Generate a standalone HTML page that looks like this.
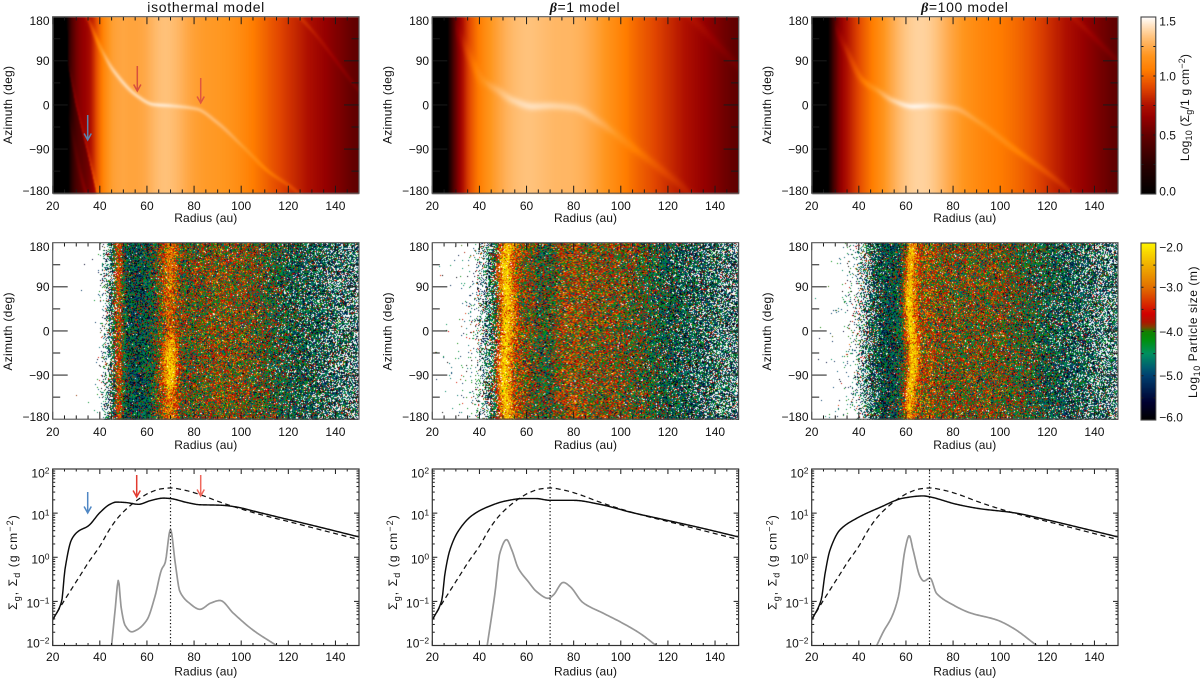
<!DOCTYPE html>
<html lang="en">
<head>
<meta charset="utf-8">
<title>Disc models: gas surface density and particle size</title>
<style>
html,body{margin:0;padding:0;background:#fff;width:1200px;height:679px;overflow:hidden}
#stage{position:relative;width:1200px;height:679px;font-family:"Liberation Sans",sans-serif}
canvas{position:absolute;display:block}
canvas.heat{filter:blur(.5px)}
canvas.dust{filter:blur(.38px)}
svg{position:absolute;left:0;top:0}
text{font-family:"Liberation Sans",sans-serif;font-size:12px;fill:#111}
</style>
</head>
<body>
<div id="stage">
<canvas class="heat" id="heat0" width="306" height="177" style="left:53px;top:17px;width:306px;height:177px"></canvas>
<canvas class="heat" id="heat1" width="306" height="177" style="left:432px;top:17px;width:307px;height:177px"></canvas>
<canvas class="heat" id="heat2" width="306" height="177" style="left:812px;top:17px;width:306px;height:177px"></canvas>
<canvas class="dust" id="dust0" width="306" height="177" style="left:53px;top:243px;width:306px;height:177px"></canvas>
<canvas class="dust" id="dust1" width="306" height="177" style="left:432px;top:243px;width:307px;height:177px"></canvas>
<canvas class="dust" id="dust2" width="306" height="177" style="left:812px;top:243px;width:306px;height:177px"></canvas>
<canvas id="gasBar" width="15" height="177" style="left:1141px;top:17px;width:15px;height:177px"></canvas>
<canvas id="sizeBar" width="15" height="177" style="left:1141px;top:243px;width:15px;height:177px"></canvas>

<svg id="figure" width="1200" height="679" viewBox="0 0 1200 679">
  <text x="205.8" y="12" text-anchor="middle" style="font-size:14px" textLength="117" lengthAdjust="spacing">isothermal model</text>
  <text x="585" y="12" text-anchor="middle" style="font-size:14px;letter-spacing:.6px"><tspan font-weight="bold" font-style="italic" font-family="Liberation Serif">β</tspan>=1 model</text>
  <text x="964.8" y="12" text-anchor="middle" style="font-size:14px;letter-spacing:.6px"><tspan font-weight="bold" font-style="italic" font-family="Liberation Serif">β</tspan>=100 model</text>

  <text x="205.8" y="222" text-anchor="middle" textLength="63">Radius (au)</text>
  <text x="585.5" y="222" text-anchor="middle" textLength="63">Radius (au)</text>
  <text x="964.8" y="222" text-anchor="middle" textLength="63">Radius (au)</text>
  <text x="205.8" y="449" text-anchor="middle" textLength="63">Radius (au)</text>
  <text x="585.5" y="449" text-anchor="middle" textLength="63">Radius (au)</text>
  <text x="964.8" y="449" text-anchor="middle" textLength="63">Radius (au)</text>
  <text x="205.8" y="675.7" text-anchor="middle" textLength="63">Radius (au)</text>
  <text x="585.5" y="675.7" text-anchor="middle" textLength="63">Radius (au)</text>
  <text x="964.8" y="675.7" text-anchor="middle" textLength="63">Radius (au)</text>

  <text transform="translate(12,105) rotate(-90)" text-anchor="middle" textLength="78">Azimuth (deg)</text>
  <text transform="translate(391.5,105) rotate(-90)" text-anchor="middle" textLength="78">Azimuth (deg)</text>
  <text transform="translate(771,105) rotate(-90)" text-anchor="middle" textLength="78">Azimuth (deg)</text>
  <text transform="translate(12,331.5) rotate(-90)" text-anchor="middle" textLength="78">Azimuth (deg)</text>
  <text transform="translate(391.5,331.5) rotate(-90)" text-anchor="middle" textLength="78">Azimuth (deg)</text>
  <text transform="translate(771,331.5) rotate(-90)" text-anchor="middle" textLength="78">Azimuth (deg)</text>

  <text transform="translate(17,562) rotate(-90)" text-anchor="middle" style="letter-spacing:1.1px">Σ<tspan dy="3" style="font-size:9px">g</tspan><tspan dy="-3">, Σ</tspan><tspan dy="3" style="font-size:9px">d</tspan><tspan dy="-3"> (g cm</tspan><tspan dy="-4" style="font-size:9px">−2</tspan><tspan dy="4">)</tspan></text>
  <text transform="translate(397,562) rotate(-90)" text-anchor="middle" style="letter-spacing:1.1px">Σ<tspan dy="3" style="font-size:9px">g</tspan><tspan dy="-3">, Σ</tspan><tspan dy="3" style="font-size:9px">d</tspan><tspan dy="-3"> (g cm</tspan><tspan dy="-4" style="font-size:9px">−2</tspan><tspan dy="4">)</tspan></text>
  <text transform="translate(776.5,562) rotate(-90)" text-anchor="middle" style="letter-spacing:1.1px">Σ<tspan dy="3" style="font-size:9px">g</tspan><tspan dy="-3">, Σ</tspan><tspan dy="3" style="font-size:9px">d</tspan><tspan dy="-3"> (g cm</tspan><tspan dy="-4" style="font-size:9px">−2</tspan><tspan dy="4">)</tspan></text>

  <text transform="translate(1189,107.5) rotate(-90)" text-anchor="middle" style="letter-spacing:.2px">Log<tspan dy="3" style="font-size:9px">10</tspan><tspan dy="-3"> (Σ</tspan><tspan dy="3" style="font-size:9px">g</tspan><tspan dy="-3">/1 g cm</tspan><tspan dy="-4" style="font-size:9px">−2</tspan><tspan dy="4">)</tspan></text>
  <text transform="translate(1197,332) rotate(-90)" text-anchor="middle" style="letter-spacing:.55px">Log<tspan dy="3" style="font-size:9px">10</tspan><tspan dy="-3"> Particle size (m)</tspan></text>
</svg>
</div>

<script>
/* ---------- axis tick values and labels ---------- */
const radiusTicks = [20,40,60,80,100,120,140];
const azimuthTicks = [180,90,0,-90,-180];
const decadeTicks = [2,1,0,-1,-2];
const gasBarTicks = ['1.5','1.0','0.5','0.0'];
const gasBarValues = [1.5,1.0,0.5,0.0];
const sizeBarTicks = ['−2.0','−3.0','−4.0','−5.0','−6.0'];
const sizeBarValues = [-2,-3,-4,-5,-6];

/* ---------- row 3: surface density curves (log10 g/cm2) ---------- */
const initialRadius = [20,24,28,33,35,40,44,47,50,55,58,61,66,70,76,82.5,90,96,108,120,132,150];
const initialLog = [-1.42,-1.06,-0.72,-0.3,-0.13,0.25,0.62,0.85,1.03,1.26,1.37,1.46,1.55,1.57,1.52,1.42,1.27,1.16,0.97,0.81,0.645,0.4];

const isoGasRadius = [20,23.8,25.2,28,30.9,35.1,40,44.3,47,51,56.4,61.3,67,70,77,82.5,91,96.7,108,118,132,150];
const isoGasLog = [-1.42,-1,-0.28,0.4,0.59,0.71,1.01,1.2,1.25,1.24,1.2,1.28,1.34,1.33,1.24,1.19,1.18,1.15,1.01,0.88,0.7,0.46];
const betaOneGasRadius = [20,24,25.4,27.5,31,36.7,43,51.5,58.6,64,70,80,91,105,119.4,133.6,150];
const betaOneGasLog = [-1.42,-0.98,-0.36,0.17,0.59,0.94,1.13,1.28,1.33,1.33,1.29,1.29,1.2,1.01,0.84,0.67,0.46];
const betaHundredGasRadius = [20,24,25.7,27.8,32,39,49,58.9,67.4,70,81.5,91.4,105.6,119.7,133.9,150];
const betaHundredGasLog = [-1.42,-0.97,-0.36,0.17,0.62,0.88,1.13,1.34,1.39,1.37,1.2,1.1,1.01,0.85,0.67,0.46];

const isoDustRadius = [45,46.5,47.9,49,50.7,53.5,55.6,60,63.4,66.2,67.7,70,72,74,78,82.5,87,91,96.7,105,115];
const isoDustLog = [-2,-1.19,-0.52,-1.12,-1.54,-1.69,-1.65,-1.42,-0.89,-0.28,-0.13,0.63,-0.13,-0.78,-1.04,-1.18,-1.04,-0.98,-1.27,-1.65,-2];
const betaOneDustRadius = [43.3,46.6,48.7,51.5,53.7,56.5,60.7,64.3,69.2,71.3,75.6,78.4,84,92.6,99.6,108,115];
const betaOneDustLog = [-2,-0.81,0.1,0.4,0.17,-0.25,-0.55,-0.78,-0.93,-0.86,-0.57,-0.66,-1.03,-1.27,-1.46,-1.72,-2];
const betaHundredDustRadius = [47.6,50.4,54,56.8,59.6,61.4,63,66,67.6,70.2,73,80,87.2,98.5,105.6,115.5];
const betaHundredDustLog = [-2,-1.69,-1.35,-0.89,0.17,0.49,0.17,-0.44,-0.54,-0.47,-0.82,-1.08,-1.26,-1.42,-1.61,-2];

/* ---------- row 1: planet wake tracks (azimuth unwrapped, deg) ---------- */
const isoWakeRadius = [26,33.7,35.1,40,45.7,55.6,62.7,71,81,89.6,101,111,124,150];
const isoWakeAzimuth = [350,187,173,119,71,20,2,-1,-7,-34,-85,-132,-177,-330];
const isoWakeStrength = [0.05,0.1,0.12,0.14,0.16,0.17,0.13,0.1,0.12,0.12,0.09,0.08,0.07,0.06];
const betaWakeRadius = [29.6,34.6,41.6,48,54.4,62.9,70,80,91,105,119.4,129,150];
const betaOneWakeAzimuth = [160,112,51,30,10,-2,-1,-5,-34,-85,-139,-178,-282];
const betaOneWakeStrength = [0.04,0.05,0.06,0.07,0.08,0.09,0.09,0.08,0.07,0.06,0.05,0.05,0.05];
const betaHundredWakeAzimuth = [160,112,51,30,10,-2,-1,-5,-34,-85,-135,-172,-270];
const betaHundredWakeStrength = [0.06,0.07,0.08,0.1,0.11,0.1,0.07,0.08,0.09,0.08,0.07,0.06,0.06];

/* isothermal inner shock front: radius against azimuth */
const frontAzimuth = [-180,-90,0,78,180];
const frontRadius = [38.7,34.4,29.8,26.6,26];

/* ---------- row 2: particle population against radius ---------- */
const fieldRadius = [20,30,35,38,40,42,44,46,50,55,60,65,70,75,80,90,100,110,120,130,140,150];
const isoFill = [0,0.001,0.002,0.006,0.05,0.25,0.55,0.85,0.98,0.99,0.99,0.99,0.99,0.99,0.99,0.99,0.985,0.97,0.93,0.85,0.72,0.62];
const betaOneFill = [0.002,0.01,0.035,0.09,0.22,0.4,0.58,0.78,0.96,0.99,0.99,0.99,0.99,0.99,0.99,0.99,0.985,0.97,0.93,0.85,0.72,0.62];
const betaHundredFill = [0.002,0.01,0.045,0.12,0.3,0.45,0.62,0.8,0.96,0.99,0.99,0.99,0.99,0.99,0.99,0.99,0.985,0.97,0.93,0.85,0.72,0.62];
const isoMeanSize = [-4.5,-4.5,-4.5,-4.5,-4.5,-4.5,-4.5,-4.4,-4.5,-4.6,-4.5,-3.9,-3.7,-3.95,-3.85,-3.65,-3.7,-4,-4.4,-4.55,-4.6,-4.7];
const betaOneMeanSize = [-4.5,-4.5,-4.5,-4.5,-4.5,-4.5,-4.5,-4.4,-3.75,-3.5,-3.65,-4.05,-4.1,-3.6,-3.5,-3.7,-3.75,-4.05,-4.45,-4.6,-4.6,-4.7];
const betaHundredMeanSize = [-4.5,-4.5,-4.5,-4.5,-4.5,-4.5,-4.55,-4.6,-4.6,-4.6,-4.2,-3.5,-3.45,-3.75,-3.75,-3.75,-3.8,-4.05,-4.45,-4.6,-4.6,-4.7];
const sizeSpread = [0.6];
const smallGrainShare = [0.22];
const smallGrainOffset = [-0.95];

/* ---------- row 2: concentrated dust rings against azimuth ---------- */
const ringAzimuth = [-180,-135,-90,-45,-15,0,45,90,135,180];
const isoOuterRingRadius = [69.8,69.7,69.7,69.8,70,69.8,69.3,69.5,69.7,69.8];
const isoOuterRingStrength = [0.55,0.62,1.1,1.1,0.75,0.4,0.45,0.52,0.58,0.58];
const isoInnerRingRadius = [48,48,48,48,48,48,48,48,48,48];
const isoInnerRingStrength = [0.6,0.6,0.6,0.6,0.6,0.6,0.6,0.6,0.6,0.6];
const betaOneRingRadius = [52,51,50.5,51,51.5,52,52,51.5,51,52];
const betaOneRingStrength = [0.9,0.95,1,0.95,0.95,0.95,0.95,1,0.95,0.9];
const betaHundredRingRadius = [61,61.5,62.5,63,62.5,62,61.5,61.5,62,62.5];
const betaHundredRingStrength = [0.85,0.9,0.95,0.95,0.95,1,1,0.95,0.9,0.85];

/* ---------- colour tables ---------- */
const gasStops = [0,0.25,0.5,0.65,0.75,0.9,1.05,1.17,1.25,1.33,1.42,1.5];
const gasReds = [0,42,100,150,175,225,255,255,255,255,255,255];
const gasGreens = [0,0,0,0,16,70,125,150,170,195,225,255];
const gasBlues = [0,0,0,0,0,0,0,30,75,125,190,255];
const sizeStops = [-6,-5.6,-5.3,-5,-4.8,-4.5,-4.2,-4,-3.9,-3.8,-3.6,-3.3,-3,-2.5,-2];
const sizeReds = [0,0,0,0,0,0,0,20,128,170,210,218,226,240,255];
const sizeGreens = [0,0,32,64,96,144,144,128,64,24,0,56,112,176,245];
const sizeBlues = [0,48,80,112,112,96,16,0,0,0,0,0,0,0,0];

/* ---------- layout ---------- */
const colLeft = [52.7,432.3,811.7];
const panelWidth = 306.3;
const rowTop = [16.7,242.7,469];
const panelHeight = 176.5;
const RMIN = 20, RMAX = 150;
const NS = 'http://www.w3.org/2000/svg';
const svg = document.getElementById('figure');

const heatModels = [
  {gasR:isoGasRadius,gasV:isoGasLog,wakeR:isoWakeRadius,wakeP:isoWakeAzimuth,wakeS:isoWakeStrength,wakeW:1.5,front:true},
  {gasR:betaOneGasRadius,gasV:betaOneGasLog,wakeR:betaWakeRadius,wakeP:betaOneWakeAzimuth,wakeS:betaOneWakeStrength,wakeW:3,front:false},
  {gasR:betaHundredGasRadius,gasV:betaHundredGasLog,wakeR:betaWakeRadius,wakeP:betaHundredWakeAzimuth,wakeS:betaHundredWakeStrength,wakeW:2.2,front:false}
];
const dustModels = [
  {fill:isoFill,mean:isoMeanSize,rings:[
    {radius:isoInnerRingRadius,strength:isoInnerRingStrength,width:1.3,peak:-2.6},
    {radius:isoOuterRingRadius,strength:isoOuterRingStrength,width:2.3,peak:-2.3}]},
  {fill:betaOneFill,mean:betaOneMeanSize,rings:[
    {radius:betaOneRingRadius,strength:betaOneRingStrength,width:2.4,peak:-2.25}]},
  {fill:betaHundredFill,mean:betaHundredMeanSize,rings:[
    {radius:betaHundredRingRadius,strength:betaHundredRingStrength,width:1.9,peak:-2.25}]}
];
const curveModels = [
  {gasR:isoGasRadius,gasV:isoGasLog,dustR:isoDustRadius,dustV:isoDustLog},
  {gasR:betaOneGasRadius,gasV:betaOneGasLog,dustR:betaOneDustRadius,dustV:betaOneDustLog},
  {gasR:betaHundredGasRadius,gasV:betaHundredGasLog,dustR:betaHundredDustRadius,dustV:betaHundredDustLog}
];

/* ---------- helpers ---------- */
function interp(xs, ys, x){
  if (x <= xs[0]) return ys[0];
  const n = xs.length - 1;
  if (x >= xs[n]) return ys[n];
  let i = 0;
  while (x > xs[i+1]) i++;
  return ys[i] + (ys[i+1]-ys[i])*(x-xs[i])/(xs[i+1]-xs[i]);
}
function tangent(xs, ys, k){
  const n = xs.length-1;
  if (k===0) return (ys[1]-ys[0])/(xs[1]-xs[0]);
  if (k===n) return (ys[n]-ys[n-1])/(xs[n]-xs[n-1]);
  const a = (ys[k]-ys[k-1])/(xs[k]-xs[k-1]);
  const b = (ys[k+1]-ys[k])/(xs[k+1]-xs[k]);
  if (a*b<=0) return 0;
  return 2*a*b/(a+b);
}
function smooth(xs, ys, x){
  if (x <= xs[0]) return ys[0];
  const n = xs.length - 1;
  if (x >= xs[n]) return ys[n];
  let i = 0;
  while (x > xs[i+1]) i++;
  const h = xs[i+1]-xs[i], t = (x-xs[i])/h, t2 = t*t, t3 = t2*t;
  return (2*t3-3*t2+1)*ys[i] + (t3-2*t2+t)*h*tangent(xs,ys,i)
       + (3*t2-2*t3)*ys[i+1] + (t3-t2)*h*tangent(xs,ys,i+1);
}
function softProfile(xs, ys, r){
  const half = Math.max(0,Math.min(5,(r-38)*0.5));
  if (half===0) return smooth(xs,ys,r);
  let sum = 0;
  for (let s=-4;s<=4;s++) sum += smooth(xs,ys,r+half*s/4);
  return sum/9;
}
function xScale(col, r){ return colLeft[col] + (r-RMIN)/(RMAX-RMIN)*panelWidth; }
function azScale(row, phi){ return rowTop[row] + (180-phi)/360*panelHeight; }
function logScale(v){ return rowTop[2] + (2-v)/4*panelHeight; }

function addLine(x1,y1,x2,y2,name,width,color){
  const el = document.createElementNS(NS,'line');
  
  
  el.setAttribute('x1', x1); el.setAttribute('y1', y1);
  el.setAttribute('x2', x2); el.setAttribute('y2', y2);
  el.setAttribute('stroke', color || '#1a1a1a');
  el.setAttribute('stroke-width', width || 1);
  svg.appendChild(el);
  return el;
}
function addFrame(x,y,w,h,name,color,width){
  const el = document.createElementNS(NS,'rect');
  
  
  el.setAttribute('x', x); el.setAttribute('y', y);
  el.setAttribute('width', w); el.setAttribute('height', h);
  el.setAttribute('fill', 'none');
  el.setAttribute('stroke', color);
  el.setAttribute('stroke-width', width);
  svg.appendChild(el);
}
function addLabel(x,y,content,anchor,name){
  const el = document.createElementNS(NS,'text');
  
  
  el.setAttribute('x', x); el.setAttribute('y', y);
  el.setAttribute('text-anchor', anchor);
  el.textContent = content;
  svg.appendChild(el);
  return el;
}
function addCurve(col,rs,vs,name,color,width,dash){
  const el = document.createElementNS(NS,'path');
  
  
  let d = '';
  const first = rs[0], last = rs[rs.length-1];
  for (let r=first; r<last; r+=0.4){
    d += (d?'L':'M')+xScale(col,r).toFixed(2)+' '+logScale(smooth(rs,vs,r)).toFixed(2);
  }
  d += 'L'+xScale(col,last).toFixed(2)+' '+logScale(vs[vs.length-1]).toFixed(2);
  el.setAttribute('d', d);
  el.setAttribute('fill', 'none');
  el.setAttribute('stroke', color);
  el.setAttribute('stroke-width', width);
  el.setAttribute('stroke-linejoin', 'round');
  if (dash) el.setAttribute('stroke-dasharray', dash);
  el.setAttribute('clip-path', 'url(#clip-curves-'+col+')');
  svg.appendChild(el);
}
function addArrow(x,y1,y2,color,name){
  const el = document.createElementNS(NS,'path');
  
  
  el.setAttribute('d', 'M'+x+' '+y1+'L'+x+' '+y2+'M'+(x-3.6)+' '+(y2-6.5)+'L'+x+' '+y2+'L'+(x+3.6)+' '+(y2-6.5));
  el.setAttribute('fill', 'none');
  el.setAttribute('stroke', color);
  el.setAttribute('stroke-width', 1.5);
  svg.appendChild(el);
}
function colorAt(stops,reds,greens,blues,v){
  return [interp(stops,reds,v), interp(stops,greens,v), interp(stops,blues,v)];
}

/* ---------- row 1 maps ---------- */
function wrapDelta(d){ return ((d+540)%360+360)%360-180; }
function drawHeat(index){
  const m = heatModels[index];
  const cv = document.getElementById('heat'+index);
  const ctx = cv.getContext('2d');
  const W = cv.width, H = cv.height;
  const img = ctx.createImageData(W,H);
  const xs = W/(RMAX-RMIN), ys = H/360;
  const base = [];
  for (let i=0;i<W;i++) base.push(softProfile(m.gasR,m.gasV,RMIN+(i+0.5)/xs));
  for (let j=0;j<H;j++){
    const phi = 180-(j+0.5)/ys;
    for (let i=0;i<W;i++){
      const r = RMIN+(i+0.5)/xs;
      let v = base[i];
      const wp = smooth(m.wakeR,m.wakeP,r);
      const slope = (smooth(m.wakeR,m.wakeP,r+0.5)-smooth(m.wakeR,m.wakeP,r-0.5))*ys/xs;
      const d = Math.abs(wrapDelta(phi-wp))*ys/Math.sqrt(1+slope*slope);
      if (r>=m.wakeR[0]) v += interp(m.wakeR,m.wakeS,r)*Math.exp(-d*d/(2*m.wakeW*m.wakeW));
      if (m.front){
        const fr = interp(frontAzimuth,frontRadius,phi);
        const t = (r-fr)*xs;
        if (t<0) v -= 0.16*Math.min(1,-t/1.5);
        else v += 0.09*Math.exp(-t*t/4);
      }
      const c = colorAt(gasStops,gasReds,gasGreens,gasBlues,Math.max(0,Math.min(1.5,v)));
      const k = (j*W+i)*4;
      img.data[k]=c[0]; img.data[k+1]=c[1]; img.data[k+2]=c[2]; img.data[k+3]=255;
    }
  }
  ctx.putImageData(img,0,0);
}

/* ---------- row 2 maps: a seeded generator samples each pixel from the population arrays ---------- */
function sampler(seed){
  let a = seed>>>0;
  return function(){
    a = (a+0x6D2B79F5)>>>0;
    let t = a;
    t = Math.imul(t^(t>>>15), t|1);
    t ^= t+Math.imul(t^(t>>>7), t|61);
    return ((t^(t>>>14))>>>0)/4294967296;
  };
}
function drawDust(index){
  const m = dustModels[index];
  const cv = document.getElementById('dust'+index);
  const ctx = cv.getContext('2d');
  const W = cv.width, H = cv.height;
  const img = ctx.createImageData(W,H);
  const rnd = sampler(1234+index*97);
  const xs = W/(RMAX-RMIN), ys = H/360;
  for (let j=0;j<H;j++){
    const phi = 180-(j+0.5)/ys;
    for (let i=0;i<W;i++){
      const r = RMIN+(i+0.5)/xs;
      let mean = interp(fieldRadius,m.mean,r);
      let fill = interp(fieldRadius,m.fill,r);
      let spread = sizeSpread[0];
      let share = smallGrainShare[0];
      m.rings.forEach(function(ring){
        const c = interp(ringAzimuth,ring.radius,phi);
        const s = interp(ringAzimuth,ring.strength,phi);
        const g = Math.exp(-(r-c)*(r-c)/(2*ring.width*ring.width));
        const pull = Math.min(1,s*g);
        mean += (ring.peak-mean)*pull;
        spread *= 1-0.4*pull;
        share *= 1-0.75*pull;
        fill = Math.max(fill,Math.min(1,g));
      });
      const k = (j*W+i)*4;
      let col = [255,255,255];
      if (rnd()<fill){
        const u = Math.max(1e-6,rnd()), w = rnd();
        const z = Math.sqrt(-2*Math.log(u))*Math.cos(6.2832*w);
        let s = mean+spread*z;
        if (rnd()<share) s += smallGrainOffset[0];
        s = Math.max(-6,Math.min(-2,s));
        col = colorAt(sizeStops,sizeReds,sizeGreens,sizeBlues,s);
      }
      img.data[k]=col[0]; img.data[k+1]=col[1]; img.data[k+2]=col[2]; img.data[k+3]=255;
    }
  }
  ctx.putImageData(img,0,0);
}

/* ---------- colour bars ---------- */
function drawBar(id,stops,reds,greens,blues,lo,hi){
  const cv = document.getElementById(id);
  const ctx = cv.getContext('2d');
  for (let j=0;j<cv.height;j++){
    const v = hi-(hi-lo)*(j+0.5)/cv.height;
    const c = colorAt(stops,reds,greens,blues,v);
    ctx.fillStyle = 'rgb('+Math.round(c[0])+','+Math.round(c[1])+','+Math.round(c[2])+')';
    ctx.fillRect(0,j,cv.width,1);
  }
}

/* ---------- axes ---------- */
function drawMapAxes(col,row){
  const x0 = colLeft[col], x1 = x0+panelWidth;
  const y0 = rowTop[row], y1 = y0+panelHeight;
  for (let r=RMIN;r<=RMAX;r+=5){
    const major = (r%20===0);
    const len = major ? 7.5 : 3.8;
    const x = xScale(col,r);
    addLine(x,y0,x,y0+len,major?'x-major-tick':'x-minor-tick',1);
    addLine(x,y1,x,y1-len,major?'x-major-tick':'x-minor-tick',1);
  }
  for (let p=-135;p<=135;p+=45){
    const major = (p%90===0);
    const len = major ? 15 : 7.5;
    const y = azScale(row,p);
    addLine(x0,y,x0+len,y,major?'y-major-tick':'y-minor-tick',1);
    addLine(x1,y,x1-len,y,major?'y-major-tick':'y-minor-tick',1);
  }
  radiusTicks.forEach(function(r){
    addLabel(xScale(col,r),y1+16.8,String(r),'middle','x-tick-label');
  });
  azimuthTicks.forEach(function(p){
    const yc = Math.max(y0+4,Math.min(y1-2.6,azScale(row,p)));
    addLabel(x0-3.2,yc+4.3,(p<0?'−':'')+Math.abs(p),'end','y-tick-label');
  });
  addFrame(x0,y0,panelWidth,panelHeight,'panel-frame','#555',1.1);
}
function drawCurvePanel(col){
  const x0 = colLeft[col], x1 = x0+panelWidth;
  const y0 = rowTop[2], y1 = y0+panelHeight;

  const defs = document.createElementNS(NS,'clipPath');
  defs.setAttribute('id','clip-curves-'+col);
  const box = document.createElementNS(NS,'rect');
  box.setAttribute('x',x0); box.setAttribute('y',y0);
  box.setAttribute('width',panelWidth); box.setAttribute('height',panelHeight);
  defs.appendChild(box);
  svg.appendChild(defs);

  const m = curveModels[col];
  addCurve(col,m.dustR,m.dustV,'dust-surface-density-line','#979797',1.7,null);
  addCurve(col,initialRadius,initialLog,'initial-gas-surface-density-line','#111',1.25,'5 3.6');
  addCurve(col,m.gasR,m.gasV,'gas-surface-density-line','#0c0c0c',1.45,null);

  const planetX = xScale(col,70);
  const dotted = addLine(planetX,y0,planetX,y1,'planet-radius-marker',1.2,'#111');
  dotted.setAttribute('stroke-dasharray','1.3 2.2');

  for (let r=RMIN;r<=RMAX;r+=5){
    const major = (r%20===0);
    const len = major ? 5 : 2.5;
    const x = xScale(col,r);
    addLine(x,y0,x,y0+len,major?'x-major-tick':'x-minor-tick',1);
    addLine(x,y1,x,y1-len,major?'x-major-tick':'x-minor-tick',1);
  }
  for (let d=-2;d<2;d++){
    for (let mult=1;mult<10;mult++){
      const v = d+Math.log10(mult);
      if (mult===1 && d===-2) continue;
      const len = mult===1 ? 5 : 2.5;
      const y = logScale(v);
      addLine(x0,y,x0+len,y,mult===1?'y-major-tick':'y-minor-tick',1);
      addLine(x1,y,x1-len,y,mult===1?'y-major-tick':'y-minor-tick',1);
    }
  }
  radiusTicks.forEach(function(r){
    addLabel(xScale(col,r),y1+15.6,String(r),'middle','x-tick-label');
  });
  decadeTicks.forEach(function(d){
    const yc = Math.max(y0+4,Math.min(y1-2.3,logScale(d)+2));
    const label = addLabel(x0-3.2,yc+4.3,'10','end','y-tick-label');
    const sup = document.createElementNS(NS,'tspan');
    sup.setAttribute('dy','-4');
    sup.setAttribute('style','font-size:8.5px');
    sup.textContent = (d<0?'−':'')+Math.abs(d);
    label.appendChild(sup);
  });
  addFrame(x0,y0,panelWidth,panelHeight,'panel-frame','#333',1.2);
}
function drawBarAxes(top,vals,labels,lo,hi,minorStep,labelTopPad){
  const xL = 1141, xR = 1155.8, H = 177;
  const yOf = function(v){ return top+(hi-v)/(hi-lo)*H; };
  for (let v=lo+minorStep;v<hi-1e-6;v+=minorStep){
    const y = yOf(v);
    addLine(xL,y,xL+2.5,y,'colorbar-tick',1);
    addLine(xR,y,xR-2.5,y,'colorbar-tick',1);
  }
  vals.forEach(function(v,i){
    const yc = Math.max(top+labelTopPad,Math.min(top+H-3,yOf(v)));
    addLabel(1159.2,yc+4.3,labels[i],'start','colorbar-tick-label');
  });
  addFrame(xL,top,xR-xL,H,'colorbar-frame','#444',1.1);
}

/* ---------- paint ---------- */
[0,1,2].forEach(drawHeat);
[0,1,2].forEach(drawDust);
drawBar('gasBar',gasStops,gasReds,gasGreens,gasBlues,0,1.5);
drawBar('sizeBar',sizeStops,sizeReds,sizeGreens,sizeBlues,-6,-2);
[0,1,2].forEach(function(c){
  drawMapAxes(c,0);
  drawMapAxes(c,1);
  drawCurvePanel(c);
});
drawBarAxes(17,gasBarValues,gasBarTicks,0,1.5,0.25,4);
drawBarAxes(243,sizeBarValues,sizeBarTicks,-6,-2,0.5,4);

addArrow(137.3,66,91,'#d8503c','wake-arrow-inner');
addArrow(200.7,78,103,'#e0573f','wake-arrow-outer');
addArrow(87.7,115,140,'#5a84ad','inner-feature-arrow');
addArrow(136.7,475,497,'#e23b30','profile-arrow-inner-wake');
addArrow(200.7,475,496,'#f0685c','profile-arrow-outer-wake');
addArrow(87.7,492,513,'#4f87c4','profile-arrow-inner-feature');
</script>
</body>
</html>
